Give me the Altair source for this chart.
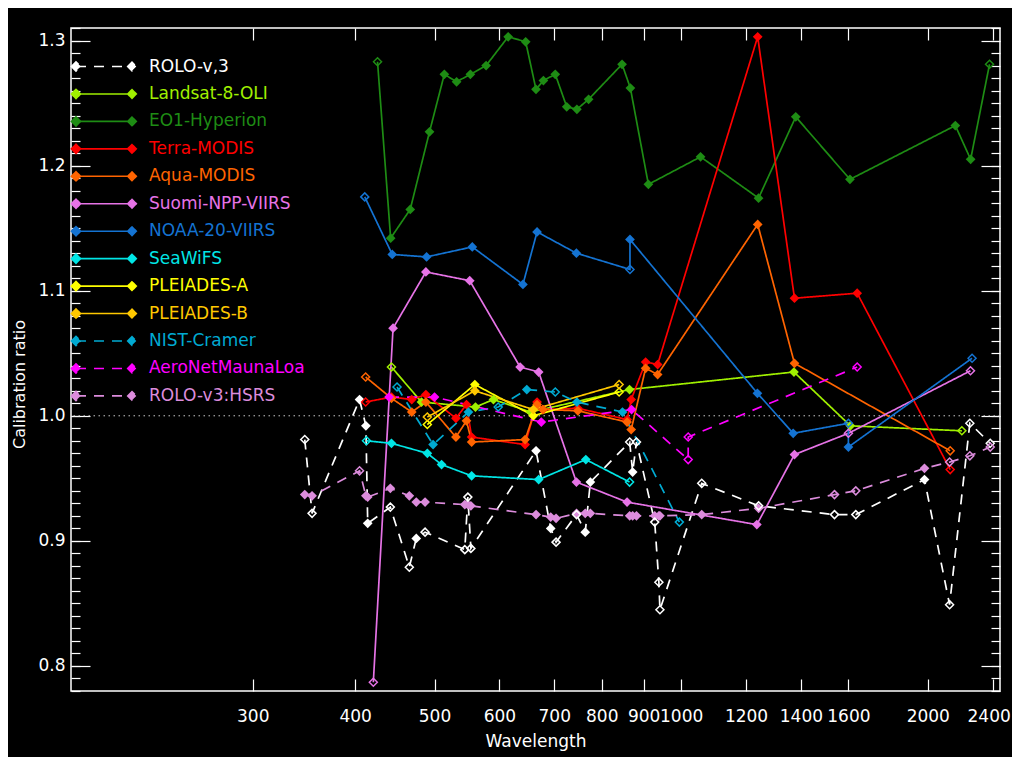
import altair as alt
import pandas as pd

FONT = "DejaVu Sans"

SERIES = ["ROLO-v,3", "Landsat-8-OLI", "EO1-Hyperion", "Terra-MODIS", "Aqua-MODIS",
          "Suomi-NPP-VIIRS", "NOAA-20-VIIRS", "SeaWiFS", "PLEIADES-A", "PLEIADES-B",
          "NIST-Cramer", "AeroNetMaunaLoa", "ROLO-v3:HSRS"]
COLORS = ["#ffffff", "#a0f000", "#1e8c14", "#ff0000", "#ff6400",
          "#e673e6", "#1473d2", "#00e6e6", "#ffff00", "#ffc800",
          "#00aad2", "#ff00ff", "#dc8cdc"]
DASHED = ["ROLO-v,3", "NIST-Cramer", "AeroNetMaunaLoa", "ROLO-v3:HSRS"]

X_TICKS = [300, 400, 500, 600, 700, 800, 900, 1000, 1200, 1400, 1600, 2000, 2400]
Y_TICKS = [0.8, 0.9, 1.0, 1.1, 1.2, 1.3]
Y_MINOR = [round(0.78 + 0.01 * i, 2) for i in range(54)]
REF_LEVEL = [1.0]

# ROLO band centres (nm)
ROLO_WL = [347.2, 354.4, 405.0, 412.3, 414.4, 441.6, 465.8, 475.0, 486.9, 544.4, 549.1,
           553.8, 665.1, 693.1, 703.6, 745.3, 763.7, 774.8, 865.3, 872.6, 882.0, 928.4,
           939.3, 942.1, 1059.5, 1243.2, 1538.7, 1633.6, 1981.5, 2126.3, 2250.9, 2383.6]
ROLO_V3 = [0.981, 0.922, 1.013, 0.992, 0.914, 0.927, 0.879, 0.902, 0.907, 0.893, 0.935,
           0.894, 0.972, 0.910, 0.899, 0.921, 0.907, 0.947, 0.979, 0.955, 0.979, 0.915,
           0.867, 0.845, 0.946, 0.928, 0.921, 0.921, 0.949, 0.849, 0.994, 0.978]
ROLO_V3_OPEN = [0, 1, 5, 6, 8, 9, 10, 11, 14, 15, 18, 20, 21, 22, 23, 24, 25, 26, 27, 29, 30, 31]
ROLO_HSRS = [0.937, 0.936, 0.956, 0.936, 0.935, 0.942, 0.936, 0.931, 0.931, 0.929, 0.929,
             0.928, 0.921, 0.919, 0.918, 0.922, 0.922, 0.922, 0.920, 0.920, 0.920, 0.920,
             0.920, 0.920, 0.921, 0.926, 0.937, 0.940, 0.958, 0.963, 0.968, 0.975]
ROLO_HSRS_OPEN = [2, 26, 27, 29, 30, 31]

HYP_WL = [426, 442, 467, 493, 514, 532, 553, 578, 615, 646, 665, 679, 702, 725, 746, 771,
          847, 867, 912, 1056, 1243, 1380, 1607, 2161, 2256, 2379]
HYP = [1.283, 1.142, 1.165, 1.227, 1.273, 1.267, 1.273, 1.280, 1.303, 1.299, 1.261, 1.268,
       1.273, 1.247, 1.245, 1.253, 1.281, 1.262, 1.185, 1.207, 1.174, 1.239, 1.189, 1.232,
       1.205, 1.281]
HYP_OPEN = [0, 25]

N20_WL = [411, 444, 489, 556, 641, 667, 745, 866, 866, 1239, 1370, 1600, 1600, 2265]
N20 = [1.175, 1.129, 1.127, 1.135, 1.105, 1.147, 1.130, 1.117, 1.141, 1.018, 0.986, 0.994,
       0.975, 1.046]
N20_OPEN = [0, 7, 11, 13]

NPP_WL = [421, 445, 488, 552, 636, 670, 745, 859, 1237, 1375, 1600, 2255]
NPP = [0.787, 1.070, 1.115, 1.108, 1.039, 1.035, 0.947, 0.931, 0.913, 0.969, 0.986, 1.036]
NPP_OPEN = [0, 10, 11]

TERRA_WL = [412, 443, 469, 488, 531, 547, 555, 645, 667, 678, 748, 859, 869, 905, 936,
            1240, 1375, 1640, 2130]
TERRA = [1.011, 1.015, 1.013, 1.017, 0.998, 1.009, 0.983, 0.977, 1.011, 1.005, 1.006,
         0.997, 1.013, 1.043, 1.041, 1.303, 1.094, 1.098, 0.957]
TERRA_OPEN = [0, 18]

AQUA_WL = [412, 443, 469, 488, 531, 547, 555, 645, 667, 678, 748, 859, 869, 905, 936,
           1240, 1375, 2130]
AQUA = [1.031, 1.014, 1.003, 1.011, 0.983, 0.996, 0.979, 0.981, 1.009, 1.005, 1.004,
        0.995, 0.989, 1.038, 1.033, 1.153, 1.042, 0.972]
AQUA_OPEN = [0, 17]

OLI_WL = [443, 482, 561, 590, 655, 865, 1373, 1609, 2201]
OLI = [1.039, 1.011, 1.007, 1.013, 1.003, 1.021, 1.035, 0.992, 0.988]
OLI_OPEN = [0, 8]

SWF_WL = [413, 443, 490, 510, 555, 670, 765, 865]
SWF = [0.980, 0.978, 0.970, 0.961, 0.952, 0.949, 0.965, 0.947]
SWF_OPEN = [0, 7]

PLE_WL = [490, 560, 660, 840]
PLE_A = [0.993, 1.025, 1.000, 1.019]
PLE_B = [0.999, 1.020, 1.005, 1.025]
PLE_OPEN = [0, 3]

NIST_WL = [450, 498, 550, 598, 648, 702, 746, 848, 995]
NIST = [1.023, 0.977, 1.003, 1.007, 1.021, 1.019, 1.011, 1.003, 0.915]
NIST_OPEN = [0, 3, 5, 8]

AERO_WL = [440, 500, 675, 870, 1020, 1020, 1640]
AERO = [1.015, 1.015, 0.995, 1.005, 0.965, 0.983, 1.039]
AERO_OPEN = [4, 5, 6]

TABLE = [
    ("ROLO-v,3", ROLO_WL, ROLO_V3, ROLO_V3_OPEN),
    ("Landsat-8-OLI", OLI_WL, OLI, OLI_OPEN),
    ("EO1-Hyperion", HYP_WL, HYP, HYP_OPEN),
    ("Terra-MODIS", TERRA_WL, TERRA, TERRA_OPEN),
    ("Aqua-MODIS", AQUA_WL, AQUA, AQUA_OPEN),
    ("Suomi-NPP-VIIRS", NPP_WL, NPP, NPP_OPEN),
    ("NOAA-20-VIIRS", N20_WL, N20, N20_OPEN),
    ("SeaWiFS", SWF_WL, SWF, SWF_OPEN),
    ("PLEIADES-A", PLE_WL, PLE_A, PLE_OPEN),
    ("PLEIADES-B", PLE_WL, PLE_B, PLE_OPEN),
    ("NIST-Cramer", NIST_WL, NIST, NIST_OPEN),
    ("AeroNetMaunaLoa", AERO_WL, AERO, AERO_OPEN),
    ("ROLO-v3:HSRS", ROLO_WL, ROLO_HSRS, ROLO_HSRS_OPEN),
]

rows = []
for name, wl, vals, opn in TABLE:
    for i, (w, v) in enumerate(zip(wl, vals)):
        rows.append({"series": name, "wl": w, "ratio": v, "idx": i, "open": int(i in opn)})
df = pd.DataFrame(rows)

DASHES = [[10, 8] if s in DASHED else [1, 0] for s in SERIES]

xscale = alt.Scale(type="log", domain=[180, 2450], nice=False)
yscale = alt.Scale(domain=[0.78, 1.31], nice=False, zero=False)
cscale = alt.Scale(domain=SERIES, range=COLORS)
dscale = alt.Scale(domain=SERIES, range=DASHES)

common = dict(grid=False, domain=False, tickColor="white", tickWidth=1.2,
              labelColor="white", labelFont=FONT, titleColor="white", titleFont=FONT)

x_bottom = alt.Axis(orient="bottom", values=X_TICKS, format="d", labelOverlap=False,
                    labelFlush=False, tickSize=12, offset=-12, labelPadding=17,
                    labelFontSize=17,
                    labelOffset={"condition": {"test": "datum.value >= 2400", "value": -4},
                                 "value": 0},
                    title="Wavelength", titleFontSize=17,
                    titleFontWeight="normal", titleBaseline="middle", titleY=62, **common)
x_top = alt.Axis(orient="top", values=X_TICKS, labels=False, tickSize=12, offset=-12,
                 title=None, **common)
y_left = alt.Axis(orient="left", values=Y_TICKS, format=".1f", tickSize=19, offset=-19,
                  labelPadding=6, labelFontSize=17, title="Calibration ratio",
                  titleFontSize=16, titleFontWeight="normal", titleAngle=270,
                  titleBaseline="bottom", titleAlign="center", titleX=-63, titleY=356,
                  **common)
y_left_minor = alt.Axis(orient="left", values=Y_MINOR, labels=False, tickSize=9,
                        offset=-9, title=None, **common)
y_right = alt.Axis(orient="right", values=Y_TICKS, labels=False, tickSize=19, offset=-19,
                   title=None, **common)
y_right_minor = alt.Axis(orient="right", values=Y_MINOR, labels=False, tickSize=9,
                         offset=-9, title=None, **common)

# legend symbol: line with filled diamond on the left and open diamond on the right
RS = 33.0      # half-width of the symbol box (px)
HALF = 28.0    # half distance between the two diamonds (px)


def diamond(cx, h):
    return f"M{cx - h:.4f},0L{cx:.4f},{-h:.4f}L{cx + h:.4f},0L{cx:.4f},{h:.4f}Z"


c = HALF / RS
SYMBOL = (f"M{-c:.4f},0L{c:.4f},0"
          + "".join(diamond(-c, h / RS) for h in (4.6, 3.4, 2.2, 1.0))
          + diamond(c, 4.3 / RS))

leg = alt.Legend(title=None, orient="none", legendX=-1, legendY=30, direction="vertical",
                 symbolType=SYMBOL, symbolSize=RS * RS * 4, symbolStrokeWidth=1.6,
                 labelFont=FONT, labelFontSize=17, labelOffset=11, labelLimit=300,
                 labelColor={"expr": "scale('color', datum.value)"},
                 clipHeight=17, rowPadding=9.45, padding=0, symbolLimit=0)

base = alt.Chart(df)

ref = alt.Chart(pd.DataFrame({"ratio": REF_LEVEL})).mark_rule(
    color="#c8c8c8", strokeDash=[1.5, 3.5], strokeWidth=1
).encode(y=alt.Y("ratio:Q", scale=yscale, axis=y_right_minor))

lines = base.mark_line(strokeWidth=1.7).encode(
    x=alt.X("wl:Q", scale=xscale, axis=x_bottom),
    y=alt.Y("ratio:Q", scale=yscale, axis=y_left),
    color=alt.Color("series:N", scale=cscale, legend=leg),
    strokeDash=alt.StrokeDash("series:N", scale=dscale, legend=leg),
    order=alt.Order("idx:Q"),
)

filled = base.transform_filter("datum.open == 0").mark_point(
    shape="diamond", filled=True, size=95, opacity=1
).encode(
    x=alt.X("wl:Q", scale=xscale, axis=x_top),
    y=alt.Y("ratio:Q", scale=yscale, axis=y_left_minor),
    color=alt.Color("series:N", scale=cscale, legend=None),
)

opened = base.transform_filter("datum.open == 1").mark_point(
    shape="diamond", filled=False, size=64, strokeWidth=1.5, opacity=1
).encode(
    x=alt.X("wl:Q", scale=xscale, axis=None),
    y=alt.Y("ratio:Q", scale=yscale, axis=y_right),
    color=alt.Color("series:N", scale=cscale, legend=None),
)

chart = alt.layer(ref, lines, filled, opened).resolve_axis(
    x="independent", y="independent"
).properties(
    width=929, height=663,
    autosize=alt.AutoSizeParams(type="none"),
    padding={"left": 63, "top": 20, "right": 12, "bottom": 66},
    background="black",
).configure_view(stroke="white", strokeWidth=1.5)

chart.save("out.html", embed_options={"renderer": "svg", "actions": False})
